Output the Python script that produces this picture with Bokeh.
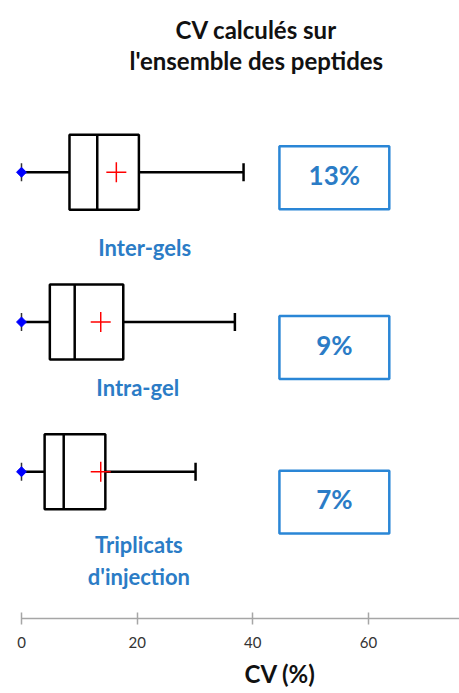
import math
from bokeh.plotting import figure
from bokeh.models import Range1d, FixedTicker, Title, ColumnDataSource
from bokeh.core.properties import value
from bokeh.embed import file_html
from bokeh.resources import INLINE

# ---- data ----
categories = ["Inter-gels", "Intra-gel", "Triplicats\nd'injection"]
rows = [3, 2, 1]
mins = [0.0, 0.0, 0.0]
q1 = [8.3, 4.9, 4.0]
medians = [13.1, 9.2, 7.3]
q3 = [20.3, 17.6, 14.5]
maxs = [38.4, 36.9, 30.1]
means = [16.4, 13.7, 13.7]
cv_labels = ["13%", "9%", "7%"]
x_ticks = [0, 20, 40, 60]
title_lines = ["CV calculés sur", "l'ensemble des peptides"]
x_label = "CV (%)"

FONT = "Lato"
BLUE = "#2b7cc6"
BOXBLUE = "#2a86d6"

p = figure(width=459, height=693, output_backend="svg", toolbar_location=None,
           x_range=Range1d(-3.63, 75.74), y_range=Range1d(0.02, 4.147),
           min_border_left=0, min_border_right=0, min_border_top=0,
           min_border_bottom=74)
p.outline_line_color = None
p.xgrid.visible = False
p.ygrid.visible = False
p.yaxis.visible = False

ax = p.xaxis[0]
ax.ticker = FixedTicker(ticks=x_ticks)
ax.bounds = (0, 75.74)
ax.axis_line_color = "#a6a6a6"
ax.axis_line_width = 1.5
ax.major_tick_line_color = "#a6a6a6"
ax.major_tick_line_width = 1.5
ax.major_tick_in = 6
ax.major_tick_out = 6
ax.minor_tick_line_color = None
ax.major_label_standoff = 12
ax.major_label_text_font = FONT
ax.major_label_text_font_size = "15px"
ax.major_label_text_color = "#333333"

# axis label as a title below the axis, shifted right like the reference
p.add_layout(Title(text=x_label, align="left", offset=244, standoff=12,
                   text_font=FONT, text_font_style="bold", text_font_size="24px",
                   text_color="#111111"), "below")

half = 0.25
lo = [r - half for r in rows]
hi = [r + half for r in rows]
cap = 0.06

src = ColumnDataSource(dict(row=rows, mn=mins, q1=q1, med=medians, q3=q3, mx=maxs,
                            mean=means, lo=lo, hi=hi,
                            clo=[r - cap for r in rows], chi=[r + cap for r in rows]))

# whiskers
p.segment(x0="mn", y0="row", x1="q1", y1="row", source=src, line_color="black", line_width=2.5)
p.segment(x0="q3", y0="row", x1="mx", y1="row", source=src, line_color="black", line_width=2.5)
# caps
p.segment(x0="mx", y0="clo", x1="mx", y1="chi", source=src, line_color="black", line_width=2.5)
p.segment(x0="mn", y0="clo", x1="mn", y1="chi", source=src, line_color="#333333", line_width=1.5)
# boxes
p.quad(left="q1", right="q3", bottom="lo", top="hi", source=src,
       fill_color="white", line_color="black", line_width=2.5)
p.segment(x0="med", y0="lo", x1="med", y1="hi", source=src, line_color="black", line_width=2.5)
# min marker and mean marker
p.scatter(x="mn", y="row", source=src, marker="square", size=7, angle=math.pi / 4,
          fill_color="#0000ff", line_color="#0000ff")
p.scatter(x="mean", y="row", source=src, marker="cross", size=20,
          line_color="#ff0000", line_width=1.5)

# category labels
lab_y = [2.50, 1.56, 0.407]
p.text(x=[21.3, 20.1, 20.3], y=lab_y, text=categories, text_font=value(FONT),
       text_font_style="bold", text_font_size="22px", text_color=BLUE,
       text_align="center", text_baseline="middle", text_line_height=1.2)

# CV boxes
box_y = [2.963, 1.83, 0.797]
p.rect(x=[54.1] * 3, y=box_y, width=19.0, height=0.42, fill_color="white",
       line_color=BOXBLUE, line_width=2.5)
p.text(x=[54.1] * 3, y=[2.98, 1.847, 0.82], text=cv_labels, text_font=value(FONT),
       text_font_style="bold", text_font_size="26px", text_color=BLUE,
       text_align="center", text_baseline="middle")

# title
p.text(x=[40.6, 40.6], y=[3.953, 3.747], text=title_lines, text_font=value(FONT),
       text_font_style="bold", text_font_size="24px", text_color="#111111",
       text_align="center", text_baseline="middle")

open("out.html", "w").write(file_html(p, INLINE))
